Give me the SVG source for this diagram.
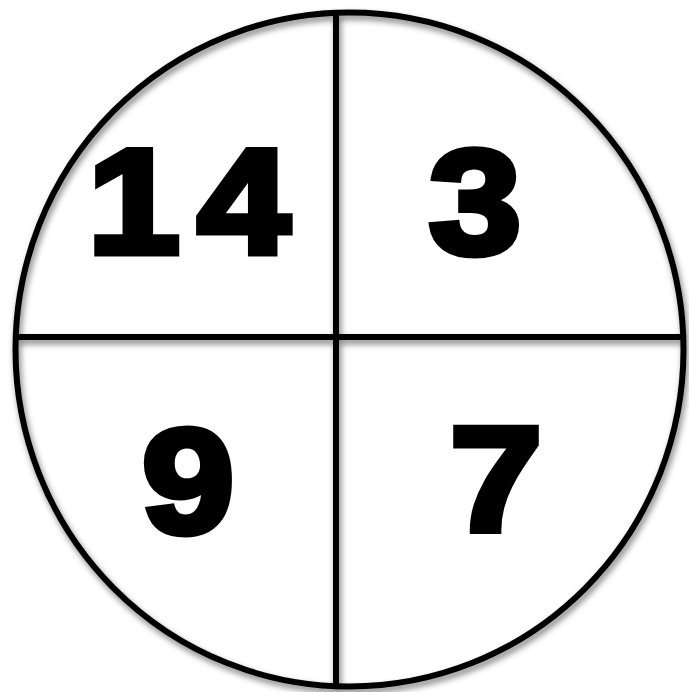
<svg xmlns="http://www.w3.org/2000/svg" width="689" height="692" viewBox="0 0 689 692">
<defs>
<filter id="sh" x="-10%" y="-10%" width="120%" height="120%">
<feDropShadow dx="2" dy="4" stdDeviation="3" flood-color="#000" flood-opacity="0.5"/>
</filter>
<style>
.ln{fill:none;stroke:#000;stroke-width:6}
.num{font-family:"Liberation Sans",Arial,sans-serif;font-weight:bold;font-size:148px;fill:#000;stroke:#000;stroke-width:7;stroke-linejoin:miter;text-anchor:middle}
</style>
</defs>
<rect width="689" height="692" fill="#fff"/>
<g id="connectors" filter="url(#sh)">
<ellipse class="ln" cx="349.5" cy="349.5" rx="334" ry="337"/>
<line class="ln" x1="336" y1="12" x2="336" y2="687"/>
<line class="ln" x1="15" y1="337" x2="684" y2="337"/>
</g>
<g id="q14"><text class="num" y="253" transform="translate(192 0) scale(1.12 1)"><tspan x="-52">1</tspan><tspan x="46">4</tspan></text></g>
<g id="q3"><text class="num" x="475" y="253" transform="translate(475 0) scale(1.12 1) translate(-475 0)">3</text></g>
<g id="q9"><text class="num" x="188" y="533" transform="translate(188 0) scale(1.12 1) translate(-188 0)">9</text></g>
<g id="q7"><text class="num" x="496" y="531" transform="translate(496 0) scale(1.12 1) translate(-496 0)">7</text></g>
</svg>
